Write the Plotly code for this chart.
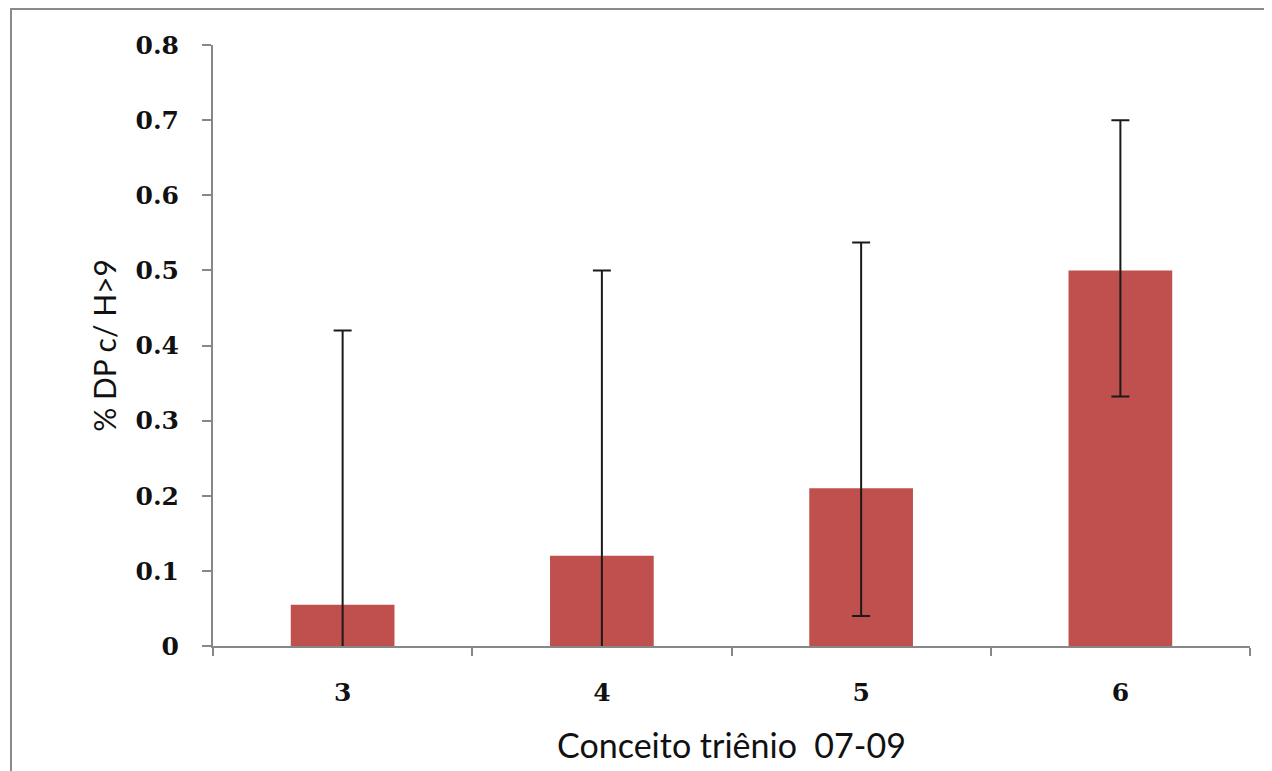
import plotly.graph_objects as go

categories = ["3", "4", "5", "6"]
values = [0.055, 0.12, 0.21, 0.50]
err_plus = [0.365, 0.38, 0.327, 0.20]
err_minus = [0.365, 0.38, 0.17, 0.168]
y_ticks = [0, 0.1, 0.2, 0.3, 0.4, 0.5, 0.6, 0.7, 0.8]
y_ticklabels = ["0", "0.1", "0.2", "0.3", "0.4", "0.5", "0.6", "0.7", "0.8"]

fig = go.Figure()
fig.add_trace(go.Bar(
    x=categories, y=values,
    marker=dict(color="#C0504D", line=dict(width=0)),
    width=0.40,
    error_y=dict(type="data", symmetric=False, array=err_plus, arrayminus=err_minus,
                 color="#1a1a1a", thickness=2, width=9),
    showlegend=False,
))

axis_color = "#878787"
tick_font = dict(family="DejaVu Serif", size=25, color="#111", weight="bold")
title_font_family = "Lato"
fig.update_layout(
    width=1264, height=763,
    margin=dict(l=205, r=22, t=37, b=123),
    paper_bgcolor="white", plot_bgcolor="white",
    xaxis=dict(
        type="category", range=[-0.5, 3.5],
        showline=True, linecolor=axis_color, linewidth=2,
        ticks="outside", ticklen=8, tickcolor=axis_color, tickwidth=2,
        tickson="boundaries", showgrid=False, zeroline=False,
        tickfont=tick_font,
        ticklabelstandoff=23,
        title=dict(text="Conceito triênio  07-09", font=dict(family=title_font_family, size=34, color="#111"), standoff=28),
    ),
    yaxis=dict(
        range=[0, 0.8], tickvals=y_ticks, ticktext=y_ticklabels,
        showline=True, linecolor=axis_color, linewidth=2,
        ticks="outside", ticklen=9, tickcolor=axis_color, tickwidth=2,
        showgrid=False, zeroline=False,
        tickfont=tick_font,
        ticklabelstandoff=18,
        title=dict(text="% DP c/ H>9", font=dict(family=title_font_family, size=30, color="#111"), standoff=10),
    ),
    shapes=[dict(type="rect", xref="paper", yref="paper",
                 x0=-0.1948, x1=1.05, y0=-0.25, y1=1.0597,
                 line=dict(color="#8a8a8a", width=2), fillcolor="rgba(0,0,0,0)", layer="below")],
)

fig.write_html("out.html")
